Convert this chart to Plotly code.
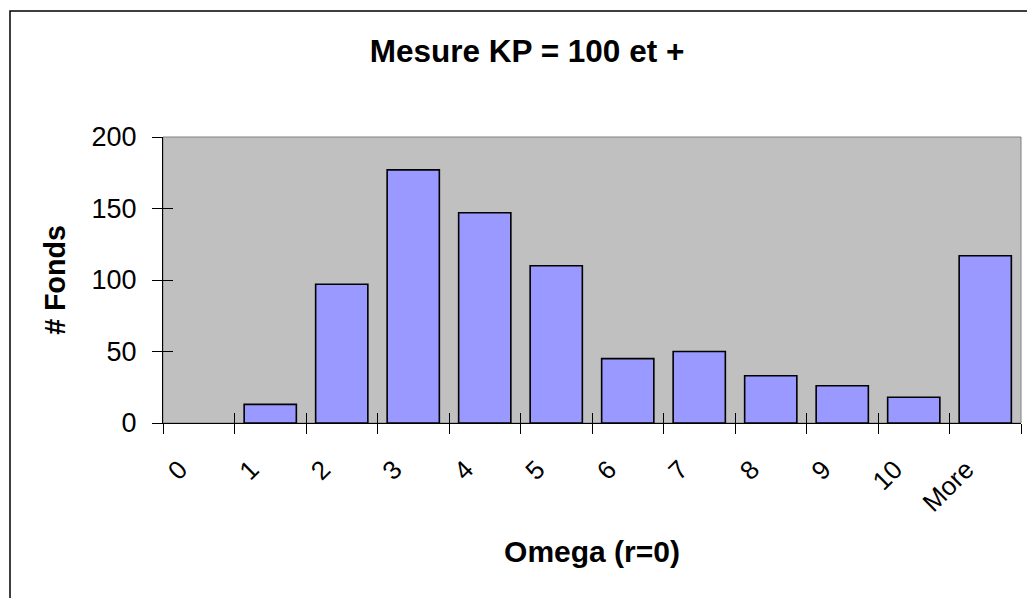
import plotly.graph_objects as go

categories = ["0", "1", "2", "3", "4", "5", "6", "7", "8", "9", "10", "More"]
counts = [0, 13, 97, 177, 147, 110, 45, 50, 33, 26, 18, 117]
y_ticks = [0, 50, 100, 150, 200]

W, H = 1027, 598
L, R, T, B = 163, 6, 137, 175
pw, ph = W - L - R, H - T - B

font = "Liberation Sans, Arial, sans-serif"

fig = go.Figure()
fig.add_trace(go.Bar(
    x=categories, y=counts,
    marker=dict(color="#9999FF",
                line=dict(color="black", width=[0 if v == 0 else 1.6 for v in counts])),
    width=0.73, hoverinfo="x+y",
))
# dummy trace for overlay axes (inside half of the crossing ticks)
fig.add_trace(go.Scatter(x=[], y=[], xaxis="x2", yaxis="y2", showlegend=False))

fig.update_layout(
    width=W, height=H,
    margin=dict(l=L, r=R, t=T, b=B),
    paper_bgcolor="white",
    plot_bgcolor="#C0C0C0",
    showlegend=False,
    title=dict(text="<b>Mesure KP = 100 et +</b>", x=527 / W, xanchor="center",
               y=1 - 51 / H, yanchor="middle",
               font=dict(family=font, size=31.5, color="black")),
    xaxis=dict(
        type="category", range=[-0.5, 11.5],
        tickson="boundaries", ticks="outside", ticklen=10, tickwidth=1, tickcolor="black",
        tickangle=-45, ticklabelstandoff=20, ticklabelshift=-19,
        tickfont=dict(family=font, size=26, color="black"),
        showline=True, linecolor="black", linewidth=1,
        showgrid=False, zeroline=False,
        title=dict(text="<b>Omega (r=0)</b>", standoff=24,
                   font=dict(family=font, size=30, color="black")),
    ),
    yaxis=dict(
        range=[0, 200], tickvals=y_ticks,
        ticks="outside", ticklen=10, tickwidth=1, tickcolor="black",
        ticklabelstandoff=10,
        tickfont=dict(family=font, size=27, color="black"),
        showline=True, linecolor="black", linewidth=1,
        showgrid=False, zeroline=False,
        title=dict(text="<b># Fonds</b>", standoff=17,
                   font=dict(family=font, size=28.6, color="black")),
    ),
    xaxis2=dict(
        overlaying="x", range=[-0.5, 11.5], tick0=-0.5, dtick=1,
        ticks="inside", ticklen=10, tickwidth=1, tickcolor="black",
        showticklabels=False, showgrid=False, zeroline=False, showline=False,
    ),
    yaxis2=dict(
        overlaying="y", range=[0, 200], tickvals=y_ticks,
        ticks="inside", ticklen=10, tickwidth=1, tickcolor="black",
        showticklabels=False, showgrid=False, zeroline=False, showline=False,
    ),
    shapes=[
        dict(type="rect", xref="paper", yref="paper", x0=0, x1=1, y0=0, y1=1,
             line=dict(color="#808080", width=1), layer="below"),
        dict(type="rect", xref="paper", yref="paper",
             x0=(10 - L) / pw, x1=1.2,
             y0=-1.0, y1=1 + (T - 11) / ph,
             line=dict(color="black", width=1.5), fillcolor="rgba(0,0,0,0)", layer="below"),
    ],
)

fig.write_html("out.html")
